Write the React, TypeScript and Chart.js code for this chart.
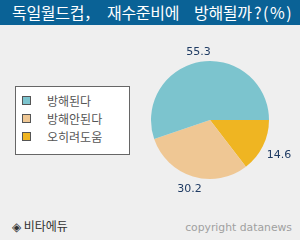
import React, { useEffect, useRef } from "react";
import { Chart, registerables } from "chart.js";

Chart.register(...registerables);

const titleParts = ["독일월드컵，", "재수준비에", "방해될까", "?(%)"];
const categories = ["방해된다", "방해안된다", "오히려도움"];
const values = [55.3, 30.2, 14.6];
const colors = ["#7cc4ce", "#efc794", "#efb522"];
const sourceText = "◈ 비타에듀";
const copyrightText = "copyright datanews";

const titleLefts = [12, 107, 194, 254];

const labelPlugin = {
  id: "outerLabels",
  afterDatasetsDraw(chart: any) {
    const ctx = chart.ctx;
    const meta = chart.getDatasetMeta(0);
    const data = chart.data.datasets[0].data;
    ctx.save();
    ctx.font = "11px 'DejaVu Sans'";
    ctx.fillStyle = "#1f3b63";
    ctx.textAlign = "center";
    ctx.textBaseline = "middle";
    meta.data.forEach((arc: any, i: number) => {
      const p = arc.getProps(["startAngle", "endAngle", "outerRadius", "x", "y"], true);
      const mid = (p.startAngle + p.endAngle) / 2;
      const c = Math.cos(mid);
      const s = Math.sin(mid);
      const d = p.outerRadius + 9 + Math.abs(c) * 10;
      ctx.fillText(String(data[i]), p.x + c * d, p.y + s * d + 1);
    });
    ctx.restore();
  },
};

export default function App() {
  const ref = useRef<HTMLCanvasElement>(null);
  useEffect(() => {
    document.body.style.margin = "0";
    const chart = new Chart(ref.current!, {
      type: "pie",
      data: {
        labels: categories.slice().reverse(),
        datasets: [
          {
            data: values.slice().reverse(),
            backgroundColor: colors.slice().reverse(),
            borderWidth: 0,
            radius: 59,
          },
        ],
      },
      options: {
        animation: false,
        responsive: false,
        rotation: 90,
        layout: { padding: { left: 11, right: 31, top: 31, bottom: 31 } },
        plugins: { legend: { display: false }, tooltip: { enabled: false } },
      },
      plugins: [labelPlugin],
    });
    return () => chart.destroy();
  }, []);

  return (
    <div
      style={{
        position: "relative",
        width: 300,
        height: 240,
        background: "#efefef",
        overflow: "hidden",
        fontFamily: "'Noto Sans CJK KR', sans-serif",
      }}
    >
      <div
        style={{
          position: "absolute",
          left: 0,
          top: 0,
          width: 300,
          height: 25,
          background: "#0a6296",
          color: "#ffffff",
          fontSize: 16,
          lineHeight: "25px",
          whiteSpace: "nowrap",
        }}
      >
        {titleParts.map((t, i) => (
          <span
            key={t}
            style={{
              position: "absolute",
              left: titleLefts[i],
              top: 0,
              letterSpacing: i === 3 ? 1.5 : -0.3,
            }}
          >
            {t}
          </span>
        ))}
      </div>
      <canvas
        ref={ref}
        width={160}
        height={180}
        style={{ position: "absolute", left: 140, top: 30, width: 160, height: 180 }}
      />
      <div
        style={{
          position: "absolute",
          left: 15,
          top: 86,
          width: 115,
          height: 69,
          background: "#ffffff",
          border: "1px solid #666666",
          boxSizing: "border-box",
        }}
      >
        {categories.map((c, i) => (
          <div
            key={c}
            style={{
              position: "absolute",
              left: 6,
              top: 6 + i * 18,
              height: 14,
              display: "flex",
              alignItems: "center",
              fontSize: 12,
              color: "#555555",
              whiteSpace: "nowrap",
            }}
          >
            <span
              style={{
                display: "inline-block",
                width: 7,
                height: 7,
                background: colors[i],
                border: "1px solid #555555",
                marginRight: 16,
              }}
            />
            {c}
          </div>
        ))}
      </div>
      <div
        style={{
          position: "absolute",
          left: 12,
          top: 218,
          fontSize: 12,
          lineHeight: "16px",
          color: "#333333",
          whiteSpace: "nowrap",
        }}
      >
        {sourceText}
      </div>
      <div
        style={{
          position: "absolute",
          right: 8,
          top: 220,
          fontSize: 10.8,
          lineHeight: "16px",
          color: "#a0a0a0",
          fontFamily: "'DejaVu Sans', sans-serif",
          whiteSpace: "nowrap",
        }}
      >
        {copyrightText}
      </div>
    </div>
  );
}
